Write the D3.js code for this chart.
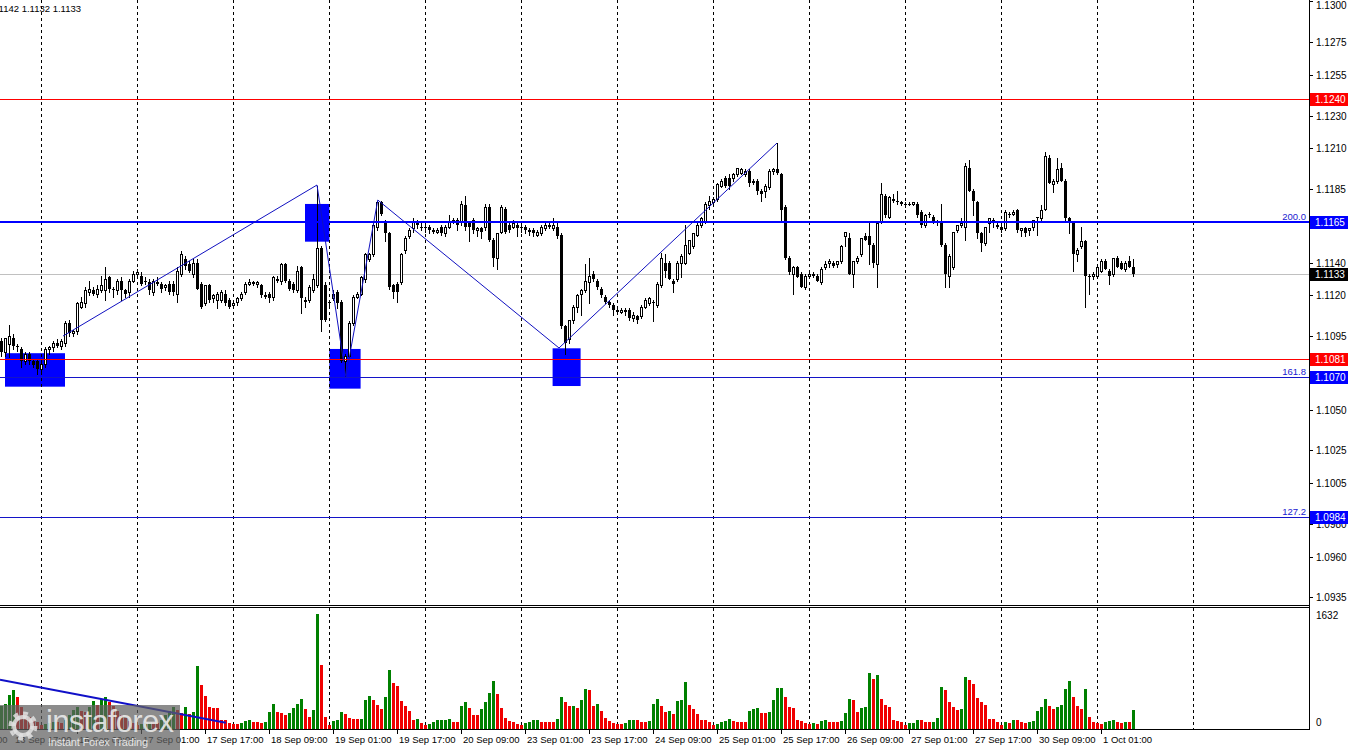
<!DOCTYPE html>
<html><head><meta charset="utf-8">
<script src="https://cdn.jsdelivr.net/npm/d3@7"></script>
<style>
html,body{margin:0;padding:0;background:#fff;}
svg{display:block;}
text{font-family:"Liberation Sans",Arial,sans-serif;}
</style>
</head><body>
<svg id="c" width="1350" height="750"></svg>
<script>
// ---- Hourly bars per trading day: [open, high, low, close, tickVolume]
const sep13 = [
[1.1092,1.1094,1.1083,1.1085,310],[1.1085,1.1094,1.1083,1.1094,348],[1.1090,1.1102,1.1082,1.1095,477],
[1.1094,1.1096,1.1087,1.1089,539],[1.1089,1.1090,1.1086,1.1088,450],[1.1087,1.1088,1.1076,1.1080,300],
[1.1080,1.1085,1.1078,1.1084,200],[1.1084,1.1085,1.1078,1.1080,160],[1.1080,1.1081,1.1076,1.1077,120],
[1.1080,1.1081,1.1072,1.1075,80]];
const sep16 = [
[1.1075,1.1080,1.1073,1.1078,40],[1.1078,1.1088,1.1076,1.1087,60],[1.1087,1.1089,1.1084,1.1088,70],
[1.1088,1.1092,1.1086,1.1091,90],[1.1091,1.1093,1.1088,1.1089,80],[1.1089,1.1093,1.1087,1.1092,70],
[1.1091,1.1104,1.1089,1.1103,110],[1.1103,1.1105,1.1095,1.1097,180],[1.1097,1.1099,1.1095,1.1098,260],
[1.1098,1.1116,1.1096,1.1115,300],[1.1113,1.1119,1.1112,1.1116,250],[1.1115,1.1125,1.1113,1.1123,230],
[1.1122,1.1129,1.1120,1.1124,300],[1.1123,1.1125,1.1120,1.1121,380],[1.1121,1.1126,1.1119,1.1124,330],
[1.1123,1.1132,1.1122,1.1126,420],[1.1123,1.1137,1.1117,1.1130,445],[1.1131,1.1132,1.1122,1.1124,367],
[1.1124,1.1125,1.1119,1.1123,320],[1.1123,1.1130,1.1121,1.1129,250],[1.1129,1.1131,1.1117,1.1123,180],
[1.1123,1.1124,1.1119,1.1121,140],[1.1122,1.1130,1.1119,1.1129,100],[1.1129,1.1135,1.1128,1.1133,70]];
const sep17 = [
[1.1133,1.1136,1.1131,1.1134,45],[1.1132,1.1134,1.1126,1.1127,55],[1.1129,1.1131,1.1127,1.1128,70],
[1.1128,1.1130,1.1121,1.1123,90],[1.1122,1.1130,1.1120,1.1129,80],[1.1128,1.1131,1.1126,1.1127,75],
[1.1127,1.1128,1.1122,1.1124,120],[1.1125,1.1127,1.1123,1.1126,180],[1.1127,1.1129,1.1121,1.1122,240],
[1.1127,1.1129,1.1120,1.1122,300],[1.1121,1.1137,1.1116,1.1135,262],[1.1133,1.1147,1.1132,1.1145,215],
[1.1142,1.1144,1.1136,1.1138,296],[1.1139,1.1141,1.1134,1.1135,205],[1.1133,1.1142,1.1131,1.1140,224],
[1.1140,1.1142,1.1124,1.1124,882],[1.1127,1.1128,1.1112,1.1113,620],[1.1115,1.1126,1.1114,1.1126,463],
[1.1126,1.1127,1.1116,1.1117,296],[1.1118,1.1121,1.1116,1.1120,290],[1.1117,1.1122,1.1112,1.1121,281],
[1.1117,1.1123,1.1116,1.1122,119],[1.1121,1.1123,1.1114,1.1115,115],[1.1117,1.1118,1.1112,1.1113,67]];
const sep18 = [
[1.1114,1.1116,1.1112,1.1115,62],[1.1116,1.1119,1.1114,1.1118,60],[1.1118,1.1122,1.1117,1.1121,72],
[1.1122,1.1128,1.1121,1.1127,105],[1.1127,1.1130,1.1126,1.1128,110],[1.1128,1.1129,1.1126,1.1127,90],
[1.1127,1.1129,1.1125,1.1128,80],[1.1126,1.1127,1.1119,1.1120,72],[1.1120,1.1122,1.1118,1.1119,90],
[1.1121,1.1122,1.1116,1.1118,234],[1.1119,1.1132,1.1117,1.1131,348],[1.1130,1.1132,1.1128,1.1129,229],
[1.1129,1.1140,1.1127,1.1139,215],[1.1139,1.1140,1.1128,1.1129,181],[1.1129,1.1130,1.1123,1.1124,215],
[1.1127,1.1128,1.1122,1.1123,286],[1.1123,1.1138,1.1122,1.1135,339],[1.1137,1.1138,1.1109,1.1118,420],
[1.1117,1.1119,1.1113,1.1116,277],[1.1117,1.1126,1.1116,1.1125,153],[1.1123,1.1133,1.1122,1.1130,262],
[1.1126,1.1187,1.1125,1.1149,1632],[1.1149,1.1150,1.1098,1.1105,906],[1.1126,1.1128,1.1104,1.1105,153]];
const sep19 = [
[1.1116,1.1117,1.1114,1.1116,48],[1.1118,1.1123,1.1117,1.1121,105],[1.1122,1.1123,1.1112,1.1115,110],
[1.1116,1.1117,1.1079,1.1080,229],[1.1080,1.1084,1.1070,1.1083,200],[1.1083,1.1104,1.1082,1.1103,143],
[1.1103,1.1120,1.1102,1.1119,129],[1.1119,1.1122,1.1118,1.1121,125],[1.1121,1.1132,1.1120,1.1131,134],
[1.1130,1.1146,1.1128,1.1145,405],[1.1142,1.1146,1.1141,1.1145,463],[1.1145,1.1164,1.1144,1.1163,396],
[1.1162,1.1178,1.1160,1.1177,334],[1.1177,1.1178,1.1169,1.1170,272],[1.1165,1.1166,1.1153,1.1158,439],
[1.1158,1.1159,1.1124,1.1125,835],[1.1126,1.1127,1.1118,1.1122,644],[1.1127,1.1128,1.1116,1.1122,606],
[1.1128,1.1146,1.1127,1.1145,391],[1.1148,1.1156,1.1146,1.1155,310],[1.1156,1.1161,1.1155,1.1160,248],
[1.1161,1.1167,1.1159,1.1165,119],[1.1165,1.1166,1.1161,1.1163,134],[1.1162,1.1164,1.1160,1.1161,72]];
const sep20 = [
[1.1161,1.1163,1.1159,1.1162,48],[1.1162,1.1163,1.1158,1.1160,62],[1.1160,1.1161,1.1158,1.1159,90],
[1.1159,1.1161,1.1158,1.1160,110],[1.1162,1.1163,1.1157,1.1158,119],[1.1158,1.1163,1.1156,1.1162,121],
[1.1162,1.1169,1.1161,1.1165,124],[1.1165,1.1167,1.1164,1.1166,90],[1.1166,1.1167,1.1160,1.1163,88],
[1.1165,1.1178,1.1163,1.1176,320],[1.1175,1.1181,1.1160,1.1162,377],[1.1164,1.1165,1.1153,1.1162,286],
[1.1166,1.1167,1.1158,1.1160,191],[1.1160,1.1162,1.1156,1.1161,190],[1.1161,1.1162,1.1155,1.1159,277],
[1.1162,1.1176,1.1160,1.1174,377],[1.1174,1.1176,1.1153,1.1154,500],[1.1154,1.1155,1.1138,1.1143,677],
[1.1143,1.1158,1.1136,1.1158,487],[1.1159,1.1175,1.1158,1.1174,286],[1.1173,1.1174,1.1158,1.1159,143],
[1.1163,1.1164,1.1159,1.1160,100],[1.1162,1.1166,1.1161,1.1164,90],[1.1163,1.1164,1.1156,1.1161,52]];
const sep23 = [
[1.1161,1.1163,1.1159,1.1162,38],[1.1162,1.1163,1.1158,1.1160,72],[1.1160,1.1161,1.1157,1.1159,86],
[1.1160,1.1161,1.1156,1.1158,110],[1.1157,1.1160,1.1156,1.1159,119],[1.1158,1.1163,1.1157,1.1162,90],
[1.1161,1.1165,1.1160,1.1163,81],[1.1163,1.1164,1.1161,1.1162,80],[1.1161,1.1167,1.1160,1.1163,79],
[1.1162,1.1164,1.1155,1.1156,134],[1.1157,1.1158,1.1100,1.1101,444],[1.1101,1.1102,1.1084,1.1091,367],
[1.1093,1.1105,1.1091,1.1105,310],[1.1105,1.1114,1.1103,1.1113,320],[1.1113,1.1121,1.1110,1.1120,286],
[1.1121,1.1124,1.1108,1.1123,405],[1.1123,1.1139,1.1122,1.1129,558],[1.1128,1.1143,1.1115,1.1132,539],
[1.1133,1.1135,1.1129,1.1130,320],[1.1129,1.1130,1.1124,1.1125,343],[1.1124,1.1125,1.1119,1.1120,238],
[1.1119,1.1120,1.1115,1.1116,143],[1.1116,1.1117,1.1113,1.1114,105],[1.1114,1.1115,1.1108,1.1111,72]];
const sep24 = [
[1.1111,1.1112,1.1109,1.1110,57],[1.1110,1.1112,1.1109,1.1111,55],[1.1111,1.1112,1.1108,1.1110,72],
[1.1111,1.1112,1.1105,1.1106,119],[1.1106,1.1110,1.1104,1.1108,121],[1.1107,1.1108,1.1103,1.1105,118],
[1.1107,1.1114,1.1106,1.1113,90],[1.1113,1.1118,1.1112,1.1117,88],[1.1115,1.1119,1.1114,1.1118,105],
[1.1116,1.1117,1.1104,1.1116,348],[1.1114,1.1128,1.1113,1.1127,420],[1.1126,1.1146,1.1125,1.1143,310],
[1.1140,1.1145,1.1131,1.1135,234],[1.1140,1.1141,1.1130,1.1130,248],[1.1129,1.1130,1.1122,1.1127,205],
[1.1130,1.1141,1.1129,1.1140,391],[1.1140,1.1145,1.1131,1.1144,405],[1.1140,1.1163,1.1139,1.1151,663],
[1.1146,1.1154,1.1145,1.1154,334],[1.1150,1.1158,1.1149,1.1158,277],[1.1157,1.1164,1.1156,1.1163,205],
[1.1163,1.1168,1.1162,1.1167,119],[1.1165,1.1177,1.1164,1.1176,110],[1.1175,1.1181,1.1173,1.1178,81]];
const sep25 = [
[1.1177,1.1180,1.1176,1.1179,48],[1.1179,1.1189,1.1178,1.1188,62],[1.1187,1.1191,1.1186,1.1190,86],
[1.1192,1.1193,1.1186,1.1187,105],[1.1192,1.1194,1.1185,1.1187,134],[1.1192,1.1195,1.1190,1.1194,105],
[1.1194,1.1198,1.1193,1.1198,90],[1.1195,1.1198,1.1194,1.1197,89],[1.1194,1.1197,1.1193,1.1196,88],
[1.1196,1.1197,1.1187,1.1189,248],[1.1190,1.1191,1.1188,1.1189,277],[1.1190,1.1191,1.1182,1.1184,286],
[1.1184,1.1185,1.1178,1.1182,219],[1.1184,1.1188,1.1180,1.1187,218],[1.1186,1.1197,1.1185,1.1196,234],
[1.1196,1.1198,1.1194,1.1197,405],[1.1197,1.1213,1.1194,1.1195,572],[1.1194,1.1195,1.1165,1.1172,575],
[1.1174,1.1175,1.1142,1.1143,448],[1.1143,1.1144,1.1133,1.1134,300],[1.1133,1.1138,1.1121,1.1137,285],
[1.1137,1.1138,1.1131,1.1131,119],[1.1133,1.1134,1.1125,1.1125,105],[1.1125,1.1133,1.1124,1.1132,67]];
const sep26 = [
[1.1132,1.1134,1.1131,1.1133,57],[1.1133,1.1134,1.1131,1.1132,72],[1.1132,1.1133,1.1129,1.1129,57],
[1.1128,1.1137,1.1127,1.1136,95],[1.1137,1.1141,1.1136,1.1139,119],[1.1140,1.1142,1.1137,1.1141,90],
[1.1140,1.1141,1.1137,1.1138,89],[1.1139,1.1141,1.1137,1.1141,88],[1.1141,1.1151,1.1140,1.1150,95],
[1.1156,1.1159,1.1150,1.1159,219],[1.1155,1.1158,1.1133,1.1133,420],[1.1133,1.1141,1.1125,1.1141,405],
[1.1141,1.1144,1.1140,1.1143,234],[1.1145,1.1155,1.1144,1.1155,291],[1.1156,1.1158,1.1154,1.1154,305],
[1.1156,1.1165,1.1139,1.1151,792],[1.1151,1.1152,1.1137,1.1140,706],[1.1139,1.1164,1.1125,1.1164,763],
[1.1165,1.1189,1.1164,1.1182,420],[1.1181,1.1182,1.1168,1.1169,334],[1.1168,1.1181,1.1167,1.1180,305],
[1.1179,1.1182,1.1177,1.1178,119],[1.1178,1.1184,1.1176,1.1177,105],[1.1177,1.1178,1.1175,1.1176,90]];
const sep27 = [
[1.1176,1.1177,1.1174,1.1175,48],[1.1176,1.1177,1.1175,1.1176,72],[1.1176,1.1177,1.1175,1.1177,74],
[1.1176,1.1177,1.1168,1.1169,119],[1.1171,1.1172,1.1162,1.1163,118],[1.1163,1.1170,1.1162,1.1169,90],
[1.1169,1.1171,1.1168,1.1170,89],[1.1168,1.1169,1.1164,1.1165,92],[1.1165,1.1166,1.1163,1.1164,148],
[1.1164,1.1176,1.1150,1.1151,591],[1.1151,1.1152,1.1125,1.1133,549],[1.1132,1.1145,1.1125,1.1144,377],
[1.1137,1.1159,1.1136,1.1159,305],[1.1160,1.1163,1.1159,1.1163,262],[1.1163,1.1167,1.1162,1.1164,277],
[1.1162,1.1201,1.1154,1.1199,735],[1.1198,1.1203,1.1184,1.1184,692],[1.1184,1.1185,1.1169,1.1178,634],
[1.1177,1.1178,1.1155,1.1158,434],[1.1158,1.1159,1.1147,1.1152,377],[1.1152,1.1162,1.1151,1.1162,334],
[1.1164,1.1167,1.1159,1.1167,134],[1.1166,1.1167,1.1162,1.1165,130],[1.1163,1.1164,1.1161,1.1162,90]];
const sep30 = [
[1.1162,1.1163,1.1159,1.1160,48],[1.1161,1.1172,1.1160,1.1171,90],[1.1170,1.1171,1.1168,1.1169,76],
[1.1170,1.1172,1.1169,1.1171,119],[1.1172,1.1173,1.1159,1.1160,118],[1.1160,1.1161,1.1156,1.1161,90],
[1.1161,1.1162,1.1156,1.1158,76],[1.1160,1.1161,1.1157,1.1161,90],[1.1162,1.1166,1.1160,1.1166,105],
[1.1167,1.1168,1.1157,1.1168,248],[1.1167,1.1175,1.1166,1.1172,305],[1.1173,1.1208,1.1172,1.1205,420],
[1.1204,1.1206,1.1189,1.1189,320],[1.1188,1.1191,1.1183,1.1190,277],[1.1190,1.1204,1.1189,1.1197,305],
[1.1198,1.1201,1.1190,1.1190,334],[1.1190,1.1191,1.1166,1.1167,563],[1.1167,1.1168,1.1158,1.1164,677],
[1.1164,1.1165,1.1135,1.1145,448],[1.1145,1.1149,1.1141,1.1148,320],[1.1150,1.1162,1.1149,1.1153,277],
[1.1153,1.1154,1.1113,1.1132,563],[1.1132,1.1133,1.1121,1.1131,162],[1.1132,1.1134,1.1130,1.1133,90]];
const oct01 = [
[1.1132,1.1138,1.1131,1.1137,76],[1.1135,1.1142,1.1134,1.1141,62],[1.1141,1.1142,1.1136,1.1136,90],
[1.1135,1.1136,1.1127,1.1132,105],[1.1133,1.1143,1.1132,1.1143,119],[1.1143,1.1144,1.1137,1.1137,90],
[1.1140,1.1141,1.1136,1.1136,76],[1.1136,1.1141,1.1135,1.1140,90],[1.1141,1.1144,1.1137,1.1137,88],
[1.1137,1.1142,1.1132,1.1133,262]];

// ---- axis labels
const priceTicks = [1.1300,1.1275,1.1255,1.1230,1.1210,1.1185,1.1140,1.1120,1.1095,1.1050,1.1025,1.1005,1.0980,1.0960,1.0935];
const timeTickBars = [-13,3,19,35,51,67,83,99,115,131,147,163,179,195,211,227,243,259,275];
const timeTickLabels = ["13 Sep 01:00","13 Sep 17:00","16 Sep 09:00","17 Sep 01:00","17 Sep 17:00","18 Sep 09:00",
 "19 Sep 01:00","19 Sep 17:00","20 Sep 09:00","23 Sep 01:00","23 Sep 17:00","24 Sep 09:00","25 Sep 01:00",
 "25 Sep 17:00","26 Sep 09:00","27 Sep 01:00","27 Sep 17:00","30 Sep 09:00","1 Oct 01:00"];
const daySeparatorBars = [10,34,58,82,106,130,154,178,202,226,250,274,298];
const volumeTicks = [1632, 0];

// ---- drawn objects
const redLevels = [1.1240, 1.1081];
const fibLevels = [1.1165, 1.1070, 1.0984];
const fibNames = ["200.0", "161.8", "127.2"];
const fibWidths = [2, 1, 1];
const zigzagBars = [15.5, 79, 86.2, 94.2, 139.5, 194];
const zigzagPrices = [1.1095, 1.11875, 1.10701, 1.11783, 1.10877, 1.12132];
const boxFromBar = [1, 76, 82.1, 137.9];
const boxToBar = [16, 82.1, 89.9, 144.9];
const boxTopPrice = [1.10845, 1.11759, 1.10871, 1.10875];
const boxBottomPrice = [1.10640, 1.11528, 1.10628, 1.10644];
const volLineBars = [-0.25, 56.2];
const volLineValues = [691, 76];

// ---- setup
const days = [sep13, sep16, sep17, sep18, sep19, sep20, sep23, sep24, sep25, sep26, sep27, sep30, oct01];
const bars = days.flat().map((d, i) => ({i, o: d[0], h: d[1], l: d[2], c: d[3], v: d[4]}));
const svg = d3.select("#c");
const RIGHT = 1309;
const x = d3.scaleLinear().domain([0, 327]).range([1, RIGHT]);
const y = d3.scaleLinear().domain([1.09303, 1.13008]).range([605, 0]);
const yv = d3.scaleLinear().domain([0, 1632]).range([728, 614]);
const px = b => Math.round(x(b));
const py = p => Math.round(y(p));
const BLUE = "#0000ff", RED = "#ff0000";
const AXIS_FONT = "10px", TIME_FONT = "9.5px";

svg.append("rect").attr("width", 1350).attr("height", 750).attr("fill", "#fff");

// boxes (background objects)
svg.append("g").selectAll("rect").data(boxFromBar).join("rect")
  .attr("x", d => x(d)).attr("width", (d, k) => x(boxToBar[k]) - x(d))
  .attr("y", (d, k) => y(boxTopPrice[k])).attr("height", (d, k) => y(boxBottomPrice[k]) - y(boxTopPrice[k]))
  .attr("fill", BLUE);

// day separators
const sep = svg.append("g").attr("stroke", "#000").attr("stroke-dasharray", "3,3").attr("shape-rendering", "crispEdges");
daySeparatorBars.forEach(b => {
  sep.append("line").attr("x1", px(b) + 0.5).attr("x2", px(b) + 0.5).attr("y1", 0).attr("y2", 605);
  sep.append("line").attr("x1", px(b) + 0.5).attr("x2", px(b) + 0.5).attr("y1", 608).attr("y2", 729);
});

// bid line
const last = bars[bars.length - 1];
svg.append("rect").attr("x", 0).attr("width", RIGHT).attr("y", py(last.c)).attr("height", 1)
  .attr("fill", "#c0c0c0").attr("shape-rendering", "crispEdges");

// candles
const cg = svg.append("g").attr("shape-rendering", "crispEdges");
cg.selectAll("line").data(bars).join("line")
  .attr("x1", d => px(d.i) + 0.5).attr("x2", d => px(d.i) + 0.5)
  .attr("y1", d => py(d.h)).attr("y2", d => py(d.l) + 1)
  .attr("stroke", "#000");
cg.selectAll("rect").data(bars).join("rect")
  .each(function(d) {
    const top = py(Math.max(d.o, d.c)), bot = py(Math.min(d.o, d.c));
    const r = d3.select(this), cx = px(d.i);
    if (d.c > d.o && bot - top >= 2) {
      r.attr("x", cx - 0.5).attr("y", top + 0.5).attr("width", 2).attr("height", bot - top)
       .attr("fill", "#fff").attr("stroke", "#000");
    } else {
      r.attr("x", cx - 1).attr("y", top).attr("width", 3).attr("height", Math.max(bot - top, 1)).attr("fill", "#000");
    }
  });

// level lines (drawn as 1px / 2px filled strips)
redLevels.forEach(p => {
  svg.append("rect").attr("x", 0).attr("width", RIGHT).attr("y", py(p)).attr("height", 1)
    .attr("fill", RED).attr("shape-rendering", "crispEdges");
});
fibLevels.forEach((p, k) => {
  svg.append("rect").attr("x", 0).attr("width", RIGHT).attr("y", py(p) - (fibWidths[k] - 1)).attr("height", fibWidths[k])
    .attr("fill", fibWidths[k] === 1 ? "#1414c8" : BLUE).attr("shape-rendering", "crispEdges");
  svg.append("text").attr("x", 1306).attr("y", py(p) - 2).attr("text-anchor", "end")
    .attr("font-size", "9.5px").attr("fill", "#2020d0").text(fibNames[k]);
});

// zigzag
svg.append("path").datum(zigzagBars.map((b, k) => [x(b), y(zigzagPrices[k])]))
  .attr("d", d3.line()).attr("fill", "none").attr("stroke", "#1010c0").attr("stroke-width", 1);

// frame
const fr = svg.append("g").attr("stroke", "#000").attr("shape-rendering", "crispEdges");
fr.append("line").attr("x1", 0).attr("x2", RIGHT + 1).attr("y1", 605.5).attr("y2", 605.5);
fr.append("line").attr("x1", 0).attr("x2", RIGHT + 1).attr("y1", 607.5).attr("y2", 607.5);
fr.append("line").attr("x1", 0).attr("x2", RIGHT + 1).attr("y1", 729.5).attr("y2", 729.5);
fr.append("line").attr("x1", RIGHT + 0.5).attr("x2", RIGHT + 0.5).attr("y1", 0).attr("y2", 730);

// price axis
const ax = svg.append("g");
priceTicks.forEach(p => {
  ax.append("line").attr("x1", RIGHT).attr("x2", RIGHT + 4).attr("y1", py(p) + 0.5).attr("y2", py(p) + 0.5)
    .attr("stroke", "#000").attr("shape-rendering", "crispEdges");
  ax.append("text").attr("x", 1316).attr("y", Math.max(py(p) + 4, 9)).attr("font-size", AXIS_FONT).attr("fill", "#000")
    .text(p.toFixed(4));
});
function priceBox(p, color) {
  const yy = py(p);
  ax.append("rect").attr("x", RIGHT + 1).attr("y", yy - 6).attr("width", 38).attr("height", 13).attr("fill", color);
  ax.append("text").attr("x", 1315).attr("y", yy + 4).attr("font-size", AXIS_FONT).attr("fill", "#fff").text(p.toFixed(4));
}
redLevels.forEach(p => priceBox(p, RED));
fibLevels.forEach(p => priceBox(p, BLUE));
priceBox(last.c, "#000");

// volumes
const vg = svg.append("g").attr("shape-rendering", "crispEdges");
vg.selectAll("rect").data(bars).join("rect")
  .attr("x", d => px(d.i) - 1).attr("width", 3)
  .attr("y", d => Math.round(yv(d.v))).attr("height", d => 729 - Math.round(yv(d.v)))
  .attr("fill", (d, k) => (k === 0 || d.v > bars[k - 1].v) ? "#008000" : "#f00000");
svg.append("line").attr("x1", x(volLineBars[0])).attr("y1", yv(volLineValues[0]))
  .attr("x2", x(volLineBars[1])).attr("y2", yv(volLineValues[1]))
  .attr("stroke", "#1010c8").attr("stroke-width", 2);
volumeTicks.forEach((v, k) => {
  svg.append("text").attr("x", 1316).attr("y", k === 0 ? 619 : 726).attr("font-size", AXIS_FONT).attr("fill", "#000").text(v);
});

// time axis
const tg = svg.append("g");
timeTickBars.forEach((b, k) => {
  tg.append("line").attr("x1", px(b) + 0.5).attr("x2", px(b) + 0.5).attr("y1", 730).attr("y2", 734)
    .attr("stroke", "#000").attr("shape-rendering", "crispEdges");
  tg.append("text").attr("x", px(b) + 2).attr("y", 743).attr("font-size", TIME_FONT).attr("fill", "#000").text(timeTickLabels[k]);
});

// header
svg.append("text").attr("x", 81).attr("y", 12).attr("text-anchor", "end").attr("font-size", "9.5px").attr("fill", "#000")
  .text("EURUSD,H1  " + [last.o, last.h, last.l, last.c].map(v => v.toFixed(4)).join(" "));

// watermark
const wm = svg.append("g");
wm.append("rect").attr("x", 0).attr("y", 705).attr("width", 180).attr("height", 45).attr("fill", "rgba(95,95,95,0.72)");
wm.append("circle").attr("cx", 23).attr("cy", 726).attr("r", 11).attr("fill", "none")
  .attr("stroke", "rgba(225,225,225,0.85)").attr("stroke-width", 7).attr("stroke-dasharray", "4.2,4.4");
wm.append("circle").attr("cx", 23).attr("cy", 726).attr("r", 9).attr("fill", "none")
  .attr("stroke", "rgba(225,225,225,0.85)").attr("stroke-width", 4);
wm.append("text").attr("x", 46).attr("y", 732).attr("font-size", "31px").attr("textLength", 128)
  .attr("fill", "rgba(235,235,235,0.9)").text("instaforex");
wm.append("text").attr("x", 48).attr("y", 746).attr("font-size", "11px").attr("textLength", 100)
  .attr("fill", "rgba(240,240,240,0.9)").text("Instant Forex Trading");
</script>
</body></html>
